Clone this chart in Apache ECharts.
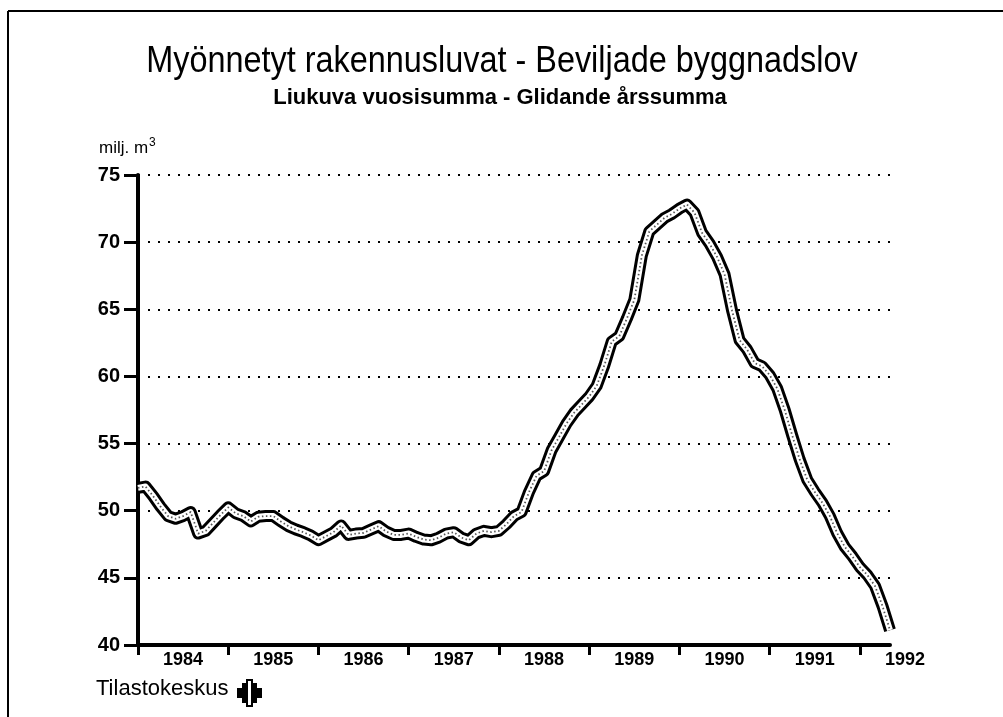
<!DOCTYPE html>
<html>
<head>
<meta charset="utf-8">
<script src="https://cdn.jsdelivr.net/npm/echarts@6/dist/echarts.min.js"></script>
<style>
  html, body { margin: 0; padding: 0; background: #fff; }
  #chart { width: 1003px; height: 717px; }
</style>
</head>
<body>
<div id="chart"></div>
<script>
  // rolling 12-month sum, one value per month (month 0 = start of axis)
  var values = [
    51.7, 51.8, 51.1, 50.3, 49.6, 49.4, 49.6, 49.9, 48.3, 48.5,
    49.1, 49.7, 50.25, 49.8, 49.6, 49.2, 49.55, 49.6, 49.6, 49.2,
    48.85, 48.6, 48.4, 48.15, 47.8, 48.1, 48.4, 48.9, 48.2, 48.3,
    48.35, 48.6, 48.85, 48.45, 48.2, 48.2, 48.3, 48.05, 47.85, 47.8,
    48.0, 48.3, 48.4, 48.0, 47.8, 48.3, 48.5, 48.4, 48.5, 49.0,
    49.6, 49.9, 51.4, 52.6, 52.95, 54.5, 55.5, 56.5, 57.3, 57.9,
    58.5, 59.3, 60.8, 62.6, 63.0, 64.3, 65.7, 69.0, 70.8, 71.3,
    71.8, 72.1, 72.5, 72.8, 72.2, 70.7, 69.9, 68.9, 67.6, 64.9,
    62.7, 62.0, 61.0, 60.75, 60.1, 59.1, 57.5, 55.6, 53.8, 52.3,
    51.4, 50.6, 49.6, 48.3, 47.3, 46.6, 45.8, 45.2, 44.4, 42.9,
    41.1
  ];
  var firstYear = 1984;
  var yearTicks = [0, 12, 24, 36, 48, 60, 72, 84, 96];
  var yMin = 40, yMax = 75, yStep = 5;

  var points = values.map(function (v, i) { return [i, v]; });
  var font = 'Liberation Sans';

  var chart = echarts.init(document.getElementById('chart'), null, { renderer: 'canvas' });

  chart.setOption({
    backgroundColor: '#fff',
    animation: false,
    grid: { left: 138, right: 113, top: 175, bottom: 72 },
    xAxis: {
      type: 'value',
      min: 0,
      max: values.length - 1,
      axisLine: { lineStyle: { color: '#000', width: 4 } },
      axisTick: { customValues: yearTicks, length: 10, lineStyle: { color: '#000', width: 3 } },
      axisLabel: {
        customValues: yearTicks,
        formatter: function (v) { return String(firstYear + v / 12); },
        padding: [0, 0, 0, 90],
        margin: 6,
        color: '#000',
        fontFamily: font,
        fontSize: 18,
        fontWeight: 'bold'
      },
      splitLine: { show: false }
    },
    yAxis: {
      type: 'value',
      min: yMin,
      max: yMax,
      interval: yStep,
      axisLine: { show: true, lineStyle: { color: '#000', width: 4 } },
      axisTick: { show: true, length: 14, lineStyle: { color: '#000', width: 3 } },
      axisLabel: {
        margin: 18,
        padding: [0, 0, 9, 0],
        color: '#000',
        fontFamily: font,
        fontSize: 20,
        fontWeight: 'bold'
      },
      splitLine: { show: true, lineStyle: { color: '#000', width: 2, type: [2, 8] } }
    },
    series: [
      {
        type: 'line', data: points, showSymbol: false, silent: true,
        lineStyle: { color: '#000', width: 12, join: 'round', cap: 'butt' }
      },
      {
        type: 'line', data: points, showSymbol: false, silent: true,
        lineStyle: { color: '#fff', width: 6, join: 'round' }
      },
      {
        type: 'line', data: points, showSymbol: false, silent: true,
        lineStyle: { color: '#555', width: 1.8, type: [1.5, 2.5], join: 'round' }
      }
    ],
    graphic: [
      { type: 'line', shape: { x1: 8, y1: 11, x2: 1003, y2: 11 }, style: { stroke: '#000', lineWidth: 2 } },
      { type: 'line', shape: { x1: 8, y1: 11, x2: 8, y2: 717 }, style: { stroke: '#000', lineWidth: 2 } },
      {
        type: 'text', x: 502, y: 44, scaleX: 0.9,
        style: { text: 'Myönnetyt rakennusluvat - Beviljade byggnadslov', textAlign: 'center', font: '36px "Liberation Sans"', fill: '#000' }
      },
      {
        type: 'text', x: 500, y: 87,
        style: { text: 'Liukuva vuosisumma - Glidande årssumma', textAlign: 'center', font: 'bold 22px "Liberation Sans"', fill: '#000' }
      },
      {
        type: 'text', left: 99, top: 137,
        style: {
          text: '{a|milj. m}{s|3}',
          rich: {
            a: { fontFamily: font, fontSize: 17, fill: '#000', verticalAlign: 'bottom' },
            s: { fontFamily: font, fontSize: 12, fill: '#000', verticalAlign: 'top', padding: [0, 0, 8, 1] }
          }
        }
      },
      {
        type: 'text', left: 96, top: 678,
        style: { text: 'Tilastokeskus', font: '22px "Liberation Sans"', fill: '#000' }
      },
      // Tilastokeskus emblem
      {
        type: 'group', left: 237, top: 679,
        children: [
          { type: 'rect', shape: { x: 0, y: 8, width: 5, height: 10 }, style: { fill: '#000' } },
          { type: 'rect', shape: { x: 5, y: 3, width: 5, height: 20 }, style: { fill: '#000' } },
          { type: 'rect', shape: { x: 10, y: 0, width: 5, height: 26 }, style: { fill: '#fff', stroke: '#000', lineWidth: 2 } },
          { type: 'rect', shape: { x: 15, y: 3, width: 5, height: 20 }, style: { fill: '#000' } },
          { type: 'rect', shape: { x: 20, y: 8, width: 5, height: 10 }, style: { fill: '#000' } }
        ]
      }
    ]
  });
</script>
</body>
</html>
